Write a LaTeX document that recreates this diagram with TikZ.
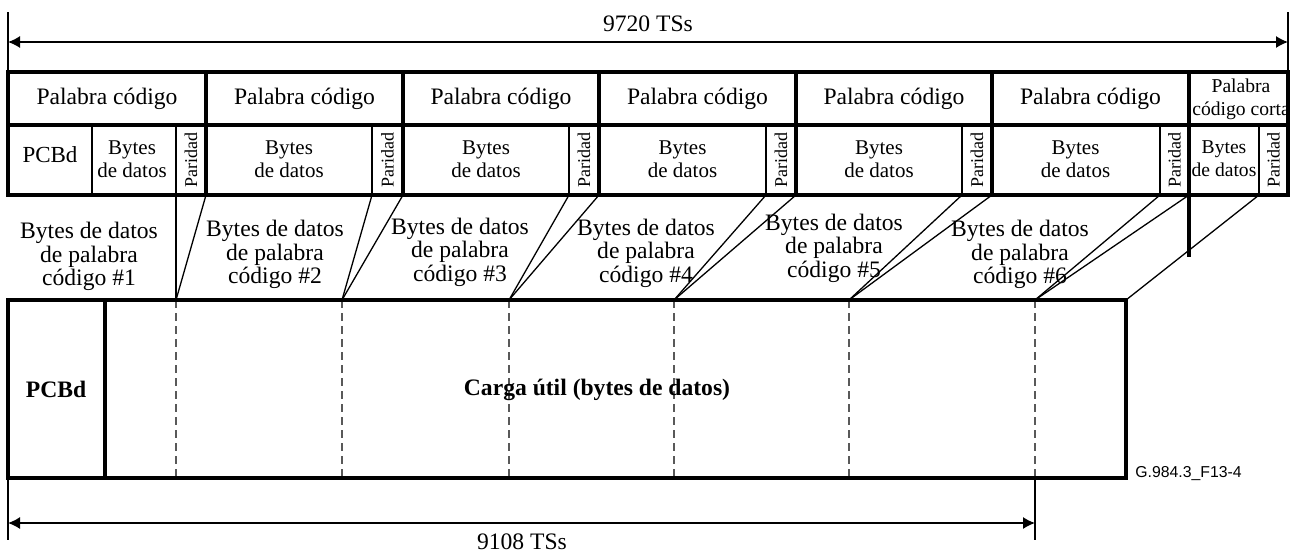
\documentclass[tikz,border=0pt]{standalone}
\usepackage{fontspec}
\setmainfont{Liberation Serif}
\newfontfamily\arialf{Liberation Sans}
\usetikzlibrary{arrows.meta}
\begin{document}
\begin{tikzpicture}[x=0.5pt,y=-0.5pt,
  thickb/.style={line width=1.6pt},
  thinb/.style={line width=1.0pt},
  conn/.style={line width=0.65pt},
  extl/.style={line width=1.1pt},
  dimarrow/.style={line width=0.7pt,{Latex[length=6pt,width=6pt]}-{Latex[length=6pt,width=6pt]}},
  dashln/.style={line width=0.75pt,draw=black!65,dash pattern=on 4pt off 2.5pt},
  bigtxt/.style={font=\fontsize{11.8}{10}\selectfont,align=center,inner sep=0pt},
  midtxt/.style={font=\fontsize{10.5}{11.5}\selectfont,align=center,inner sep=0pt},
  smtxt/.style={font=\fontsize{9.8}{11.5}\selectfont,align=center,inner sep=0pt},
  partxt/.style={font=\fontsize{9}{10}\selectfont,rotate=90,inner sep=0pt},
  boldtxt/.style={font=\fontsize{11.8}{12}\selectfont\bfseries,inner sep=0pt},
  idtxt/.style={font=\arialf\fontsize{7.9}{9}\selectfont,inner sep=0pt,anchor=west}
]
\useasboundingbox (0,0) rectangle (1290,553);

% ---- coordinates of the table ----
\foreach \n/\x in {0/8,1/206,2/403,3/599,4/796,5/992,6/1189,7/1288}{
  \coordinate (B\n t) at (\x,72);
  \coordinate (B\n m) at (\x,125);
  \coordinate (B\n b) at (\x,195);
}
\foreach \n/\x in {1/176,2/372,3/569,4/766,5/962,6/1160,7/1259}{
  \coordinate (P\n m) at (\x,125);
  \coordinate (P\n b) at (\x,195);
}
\coordinate (S m) at (92,125);
\coordinate (S b) at (92,195);
\coordinate (cut) at (1189,257);

% ---- coordinates of the payload ----
\foreach \n/\x in {1/176,2/342,3/509,4/674,5/849,6/1035}{
  \coordinate (D\n t) at (\x,300);
  \coordinate (D\n b) at (\x,478);
}
\coordinate (PLnw) at (8,300);
\coordinate (PLne) at (1126,300);
\coordinate (PLse) at (1126,478);
\coordinate (PLsw) at (8,478);
\coordinate (PCt) at (105,300);
\coordinate (PCb) at (105,478);

% ---- top dimension ----
\coordinate (T1a) at (8,12);   \coordinate (T1b) at (8,72);
\coordinate (T2a) at (1288,12);\coordinate (T2b) at (1288,72);
\coordinate (TAl) at (8,42);   \coordinate (TAr) at (1288,42);
\draw[extl] (T1a) -- (T1b);
\draw[extl] (T2a) -- (T2b);
\draw[dimarrow] (TAl) -- (TAr);
\node[bigtxt] (toplabel) at (648,24) {9720 TSs};

% ---- connectors between codewords and payload ----
\draw[conn] (P1b) -- (D1t);
\foreach \n in {1,...,6}{
  \draw[conn] (B\n b) -- (D\n t);
}
\foreach \n in {2,...,6}{
  \draw[conn] (P\n b) -- (D\n t);
}
\draw[conn] (P7b) -- (PLne);
\draw[thickb] (B6b) -- (cut);

% ---- table ----
\draw[thickb] (B0t) rectangle (B7b);
\draw[thickb] (B0m) -- (B7m);
\foreach \n in {1,...,6}{
  \draw[thickb] (B\n t) -- (B\n b);
}
\foreach \n in {1,...,7}{
  \draw[thinb] (P\n m) -- (P\n b);
}
\draw[thinb] (S m) -- (S b);

% header texts
\foreach \n/\x in {1/107,2/304.5,3/501,4/697.5,5/894,6/1090.5}{
  \node[bigtxt] (pc\n) at (\x,99) {Palabra código};
}
\node[smtxt] (pc7) at (1241,99) {Palabra\\código corta};

% second row texts
\node[font=\fontsize{11.5}{12}\selectfont,inner sep=0pt] (pcbdh) at (50,155) {PCBd};
\node[midtxt] (bd1) at (132,159) {Bytes\\de datos};
\foreach \n/\x in {2/289,3/486,4/682.5,5/879,6/1075.5}{
  \node[midtxt] (bd\n) at (\x,159) {Bytes\\de datos};
}
\node[smtxt] (bd7) at (1224,159) {Bytes\\de datos};
\foreach \n/\x in {1/191,2/387.5,3/584,4/781,5/977,6/1174.5,7/1273.5}{
  \node[partxt] (par\n) at (\x,160) {Paridad};
}

% middle labels
\node[bigtxt] (cw1) at (89,256.5) {Bytes de datos\\de palabra\\código \#1};
\node[bigtxt] (cw2) at (275,254.5) {Bytes de datos\\de palabra\\código \#2};
\node[bigtxt] (cw3) at (460,252) {Bytes de datos\\de palabra\\código \#3};
\node[bigtxt] (cw4) at (646,253) {Bytes de datos\\de palabra\\código \#4};
\node[bigtxt] (cw5) at (834,248) {Bytes de datos\\de palabra\\código \#5};
\node[bigtxt] (cw6) at (1020,254.5) {Bytes de datos\\de palabra\\código \#6};

% ---- payload ----
\foreach \n in {1,...,6}{
  \draw[dashln] (D\n t) -- (D\n b);
}
\draw[thickb] (PLnw) rectangle (PLse);
\draw[thickb] (PCt) -- (PCb);
\node[boldtxt] (pcbd) at (56,389.5) {PCBd};
\node[boldtxt] (carga) at (597,389.5) {Carga útil (bytes de datos)};
\node[idtxt] (figid) at (1135,474) {G.984.3\_F13-4};

% ---- bottom dimension ----
\coordinate (U1a) at (8,478);   \coordinate (U1b) at (8,540);
\coordinate (U2a) at (1035,478);\coordinate (U2b) at (1035,540);
\coordinate (UAl) at (8,523);   \coordinate (UAr) at (1035,523);
\draw[extl] (U1a) -- (U1b);
\draw[extl] (U2a) -- (U2b);
\draw[dimarrow] (UAl) -- (UAr);
\node[bigtxt] (botlabel) at (522,542) {9108 TSs};
\end{tikzpicture}
\end{document}
